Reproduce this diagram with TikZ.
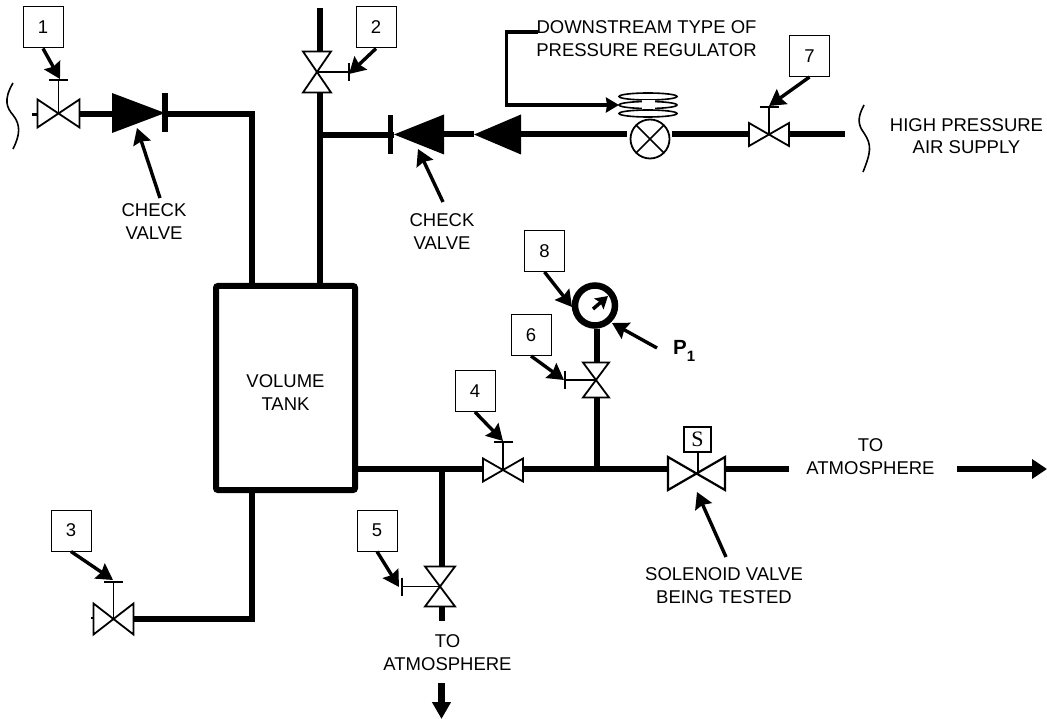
\documentclass[tikz,border=0pt]{standalone}
\usepackage{fontspec}
\setmainfont{Liberation Sans}
\newfontfamily\serifS{Liberation Serif}
\usetikzlibrary{calc, arrows.meta, positioning}
\tikzset{
	pics/hvalve/.style n args={3}{code={
		\coordinate (-l) at (-#1,0);
		\coordinate (-r) at (#1,0);
		\coordinate (-t) at (0,-#3);
		\draw[thin valve, fill=white] (-#1,-#2) -- (#1,#2) -- (#1,-#2) -- (-#1,#2) -- cycle;
		\draw[stem] (0,0) -- (-t);
		\draw[bar] (-9.5,-#3) -- (9.5,-#3);
	}},
	pics/vvalve/.style n args={3}{code={
		\coordinate (-t) at (0,-#2);
		\coordinate (-b) at (0,#2);
		\coordinate (-s) at (#3,0);
		\draw[thin valve, fill=white] (-#1,-#2) -- (#1,-#2) -- (-#1,#2) -- (#1,#2) -- cycle;
		\draw[stem] (0,0) -- (-s);
		\draw[bar] (#3,-9) -- (#3,9);
	}},
	pics/checkv/.style={code={
		\coordinate (-base) at (-#1,0);
		\coordinate (-tip) at (#1,0);
		\fill (-#1,-20) -- (#1,0) -- (-#1,20) -- cycle;
	}},
	thin valve/.style={draw=black, line width=1.8pt, line join=miter},
	stem/.style={draw=black, line width=1.5pt},
	bar/.style={draw=black, line width=2pt}
}
\begin{document}
\begin{tikzpicture}[x=1pt, y=-1pt, font=\fontsize{18.5}{22.5}\selectfont]
		\tikzstyle{pipe} = [line width=6pt, draw=black]
		\tikzstyle{tag} = [draw=black, line width=1pt, minimum width=40pt, minimum height=41pt, inner sep=0pt, fill=white]
		\tikzstyle{call} = [line width=3.4pt, -{Stealth[length=16pt, width=18pt, inset=2pt]}]
		\tikzstyle{lead} = [line width=3.2pt, -{Stealth[length=13pt, width=15pt, inset=1pt]}]
		\tikzstyle{words} = [align=center, inner sep=0pt]
		\useasboundingbox (0,0) rectangle (1047,719);
		
		% tank and labels
		\node[draw=black, line width=6pt, rounded corners=2pt, minimum width=139pt, minimum height=204pt, inner sep=0pt] at (285.5,388) (tank) {};
		\node[words] at (285.5,392.5)	(tanktext)	{VOLUME\\TANK};
		\node[words] at (154,221.5)	(check1)	{CHECK\\VALVE};
		\node[words] at (442,231.5)	(check2)	{CHECK\\VALVE};
		\node[words] at (646.5,38.5)	(regtext)	{DOWNSTREAM TYPE OF\\PRESSURE REGULATOR};
		\node[words] at (966.5,136)	(airtext)	{HIGH PRESSURE\\AIR SUPPLY};
		\node[words] at (870.5,456.5)	(outtext)	{TO\\ATMOSPHERE};
		\node[words] at (447.5,652.5)	(downtext)	{TO\\ATMOSPHERE};
		\node[words] at (724,585.5)	(soltext)	{SOLENOID VALVE\\BEING TESTED};
		\node[words, anchor=base west, font=\fontsize{20.5}{22}\selectfont\bfseries] at (673,355) (p1) {P\raisebox{-7pt}{\fontsize{15}{15}\selectfont 1}};
		
		\node[tag] at (43,27.5)		(b1) {1};
		\node[tag] at (376,27.5)	(b2) {2};
		\node[tag] at (71,530.5)	(b3) {3};
		\node[tag] at (475,391)		(b4) {4};
		\node[tag] at (377,530.5)	(b5) {5};
		\node[tag] at (531,335)		(b6) {6};
		\node[tag] at (809.5,56)	(b7) {7};
		\node[tag] at (544.5,251)	(b8) {8};
		
		% valves first, the pipes end on them
		\pic (v1) at (58.5,113.5) {hvalve={21}{14}{33}};
		\pic (v2) at (317,72) {vvalve={14}{20.5}{32}};
		\pic (v3) at (113.5,619) {hvalve={20}{15.5}{37}};
		\pic (v4) at (503,470) {hvalve={20}{11.5}{28}};
		\pic (v5) at (440,586.5) {vvalve={15}{20}{-38}};
		\pic (v6) at (596,380) {vvalve={13}{17.5}{-31}};
		\pic (v7) at (769,134.5) {hvalve={20}{11.5}{27}};
		\pic (cv1) at (138.5,113) {checkv={26.5}};
		\pic[rotate=180] (cv2) at (419,134.5) {checkv={25}};
		\pic[rotate=180] (cv3) at (497.5,134.5) {checkv={23.5}};
		\fill (162,93) rectangle (168,132);
		\fill (387.5,115) rectangle (393,154);
		\draw[line width=3pt] (32,115) -- (37,115);
		\draw[line width=1.5pt] (91,618) -- (93,618);
		
		% solenoid valve
		\node[draw=black, line width=2pt, minimum width=27pt, minimum height=25pt, inner sep=0pt, font=\fontsize{22}{22}\selectfont\serifS] at (697.5,439.5) (sol) {S};
		\coordinate (solc) at (697,473);
		\coordinate (soll) at (668,468.5);
		\coordinate (solr) at (725,468.5);
		\draw[thin valve, line width=2.2pt, fill=white] (668,457) -- (725,490) -- (725,457) -- (668,490) -- cycle;
		\draw[stem, line width=2pt] (sol.south |- solc) -- (sol.south);
		
		% regulator
		\node[draw=black, circle, line width=1.8pt, minimum size=39pt, inner sep=0pt] at (650,139) (reg) {};
		\draw[line width=1.5pt] ($(reg)+(-13.5,-13.5)$) -- ($(reg)+(13.5,13.5)$) ($(reg)+(13.5,-13.5)$) -- ($(reg)+(-13.5,13.5)$);
		\draw[line width=1.6pt] (648,96.5) ellipse (29 and 3.5);
		\draw[line width=1.6pt] (648,105) ellipse (29 and 3.5);
		\draw[line width=1.6pt] (648,113.5) ellipse (29 and 3.5);
		\fill[white] (642,100.5) rectangle (655,109.5);
		\coordinate (leada) at (538,32);
		\coordinate (leadb) at (506.5,32);
		\coordinate (leadc) at (506.5,105);
		\coordinate (leadd) at (619,105);
		\draw[lead] (leada) -- (leadb) -- (leadc) -- (leadd);
		
		% gauge
		\node[draw=black, circle, line width=6.5pt, minimum size=40pt, inner sep=0pt] at (595,305.5) (gauge) {};
		\coordinate (needle) at (593,309);
		\coordinate (needletip) at (608,296);
		\draw[line width=3.5pt, -{Stealth[length=12pt, width=14pt, inset=2pt]}] (needle) -- (needletip);
		
		% pipe ends and corners
		\coordinate (top) at (320,8);
		\coordinate (c1) at (251.5,114);
		\coordinate (c2) at (320,135.5);
		\coordinate (c3) at (251.5,619);
		\coordinate (c4) at (441.5,468.5);
		\coordinate (c5) at (597,468.5);
		\coordinate (regl) at (627,134.5);
		\coordinate (regr) at (672,134);
		\coordinate (supply) at (845,134);
		\coordinate (low) at (441.5,621);
		\coordinate (lowa) at (441.5,683);
		\coordinate (lowb) at (441.5,719);
		\coordinate (outa) at (789,468.5);
		\coordinate (outb) at (957,469);
		\coordinate (outc) at (1047,469);
		
		\draw[pipe] (v1-r |- c1) -- (cv1-base |- c1);
		\draw[pipe] (cv1-tip |- c1) -- (c1) -- (c1 |- tank.north);
		\draw[pipe] (top) -- (top |- v2-t);
		\draw[pipe] (top |- v2-b) -- (top |- tank.north);
		\draw[pipe] (c2) -- (cv2-tip |- c2);
		\draw[pipe] (cv2-base) -- (cv3-tip);
		\draw[pipe] (cv3-base) -- (regl);
		\draw[pipe] (regr) -- (v7-l |- regr);
		\draw[pipe] (v7-r |- supply) -- (supply);
		\draw[pipe] (tank.south -| c3) -- (c3) -- (v3-r);
		\draw[pipe] (tank.east |- c4) -- (v4-l |- c4);
		\draw[pipe] (v4-r |- c4) -- (soll);
		\draw[pipe] (solr) -- (outa);
		\draw[pipe] (c4) -- (c4 |- v5-t);
		\draw[pipe] (c4 |- v5-b) -- (low);
		\draw[pipe] (c5) -- (c5 |- v6-b);
		\draw[pipe] (c5 |- v6-t) -- (c5 |- gauge.south);
		
		% braces
		\draw[line width=1.6pt] (13,83) .. controls (3,100) and (7,108) .. (13,115) .. controls (21,125) and (20,135) .. (13,149);
		\draw[line width=1.6pt] (864,105) .. controls (857,118) and (858,125) .. (864,133) .. controls (872,145) and (871,152) .. (863,172);
		
		% call outs
		\coordinate (t1) at (60,79);
		\coordinate (t2) at (349,74);
		\coordinate (t3) at (113,580);
		\coordinate (t4) at (503,441);
		\coordinate (t5) at (399,587);
		\coordinate (t6) at (564,380);
		\coordinate (t7) at (769,106);
		\coordinate (t8) at (572,307);
		\draw[call] (b1.south) -- (t1);
		\draw[call] (b2.south) -- (t2);
		\draw[call] (b3.south) -- (t3);
		\draw[call] (b4.south) -- (t4);
		\draw[call] (b5.south) -- (t5);
		\draw[call] (b6.south) -- (t6);
		\draw[call] (b7.south) -- (t7);
		\draw[call] (b8.south) -- (t8);
		\coordinate (p1a) at (657,348);
		\coordinate (p1b) at (612,323);
		\draw[call] (p1a) -- (p1b);
		\coordinate (cva) at (160,198);
		\coordinate (cvb) at (137,128);
		\draw[call] (cva) -- (cvb);
		\coordinate (cvc) at (443,202);
		\coordinate (cvd) at (418,149);
		\draw[call] (cvc) -- (cvd);
		\coordinate (sola) at (726,557);
		\coordinate (solb) at (697,492);
		\draw[call] (sola) -- (solb);
		
		% outlets
		\draw[line width=6.7pt, -{Triangle[length=15pt, width=19pt]}] (outb) -- (outc);
		\draw[line width=7pt, -{Triangle[length=17pt, width=18pt]}] (lowa) -- (lowb);
	\end{tikzpicture}
\end{document}
